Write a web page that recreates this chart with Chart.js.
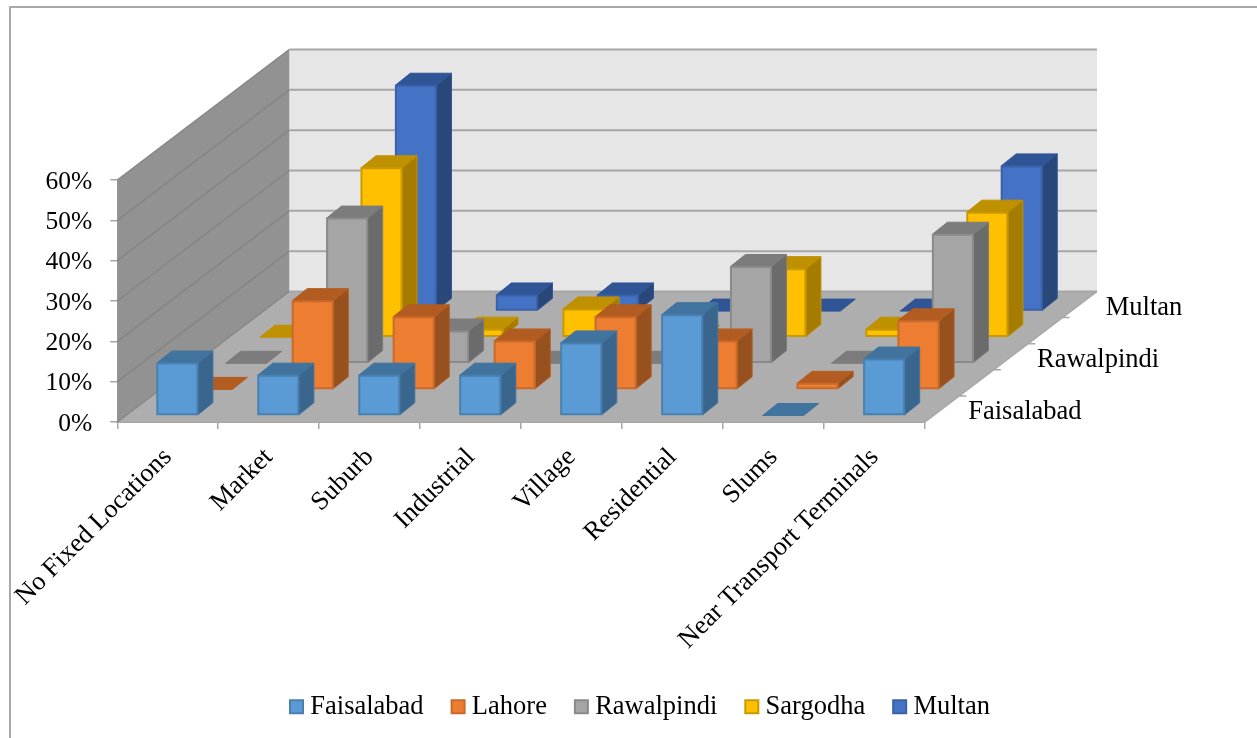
<!DOCTYPE html>
<html>
<head>
<meta charset="utf-8">
<title>Locations by city</title>
<style>
  html, body { margin: 0; padding: 0; background: #fff; }
  canvas { display: block; }
</style>
</head>
<body>
<canvas id="myChart" width="1257" height="738"></canvas>
<script src="https://cdn.jsdelivr.net/npm/chart.js@4"></script>
<script>
const categories = ["No Fixed Locations", "Market", "Suburb", "Industrial", "Village", "Residential", "Slums", "Near Transport Terminals"];
const faisalabad = [13, 10, 10, 10, 18, 25, 0, 14];
const lahore = [0, 22, 18, 12, 18, 12, 1.5, 17];
const rawalpindi = [0, 36, 8, 0, 0, 24, 0, 32];
const sargodha = [0, 42, 2, 7, 0, 17, 2, 31];
const multan = [0, 56, 4, 4, 0, 0, 0, 36];
const depthLabels = ["Faisalabad", "", "Rawalpindi", "", "Multan"];

// front, top, side, outline for each series
const frontColors = ["#5b9bd5", "#ed7d31", "#a5a5a5", "#ffc000", "#4472c4"];
const topColors = ["#41739f", "#b35c21", "#7c7c7c", "#bf9000", "#2f5597"];
const sideColors = ["#3a668e", "#96511e", "#6b6b6b", "#a67c00", "#2a4779"];
const lineColors = ["#4a80b0", "#c96a2a", "#8a8a8a", "#c89a00", "#3a62a8"];

// oblique projection, in pixels
const SLOT_DX = 34.4;
const SLOT_DY = 26.1;
const INSET_DX = 9.6;
const INSET_DY = 6.5;
const BAR_DX = 15;
const BAR_DY = 12;

Chart.defaults.font.family = '"Liberation Serif", "Times New Roman", serif';
Chart.defaults.color = "#000";

function poly(ctx, pts, fill, stroke) {
  ctx.beginPath();
  pts.forEach((p, i) => i ? ctx.lineTo(p[0], p[1]) : ctx.moveTo(p[0], p[1]));
  ctx.closePath();
  ctx.fillStyle = fill;
  ctx.fill();
  if (stroke) {
    ctx.strokeStyle = stroke;
    ctx.lineWidth = 1;
    ctx.stroke();
  }
}

// bar chart whose elements get painted as boxes, one row back per dataset
class Bar3dController extends Chart.BarController {
  draw() {
    const ctx = this.chart.ctx;
    const i = this.index;
    const dx = INSET_DX + SLOT_DX * i;
    const dy = -INSET_DY - SLOT_DY * i;
    ctx.save();
    this.getMeta().data.forEach((el) => {
      const p = el.getProps(["x", "y", "base", "width"], true);
      const l = p.x - p.width / 2 + dx;
      const r = p.x + p.width / 2 + dx;
      const t = p.y + dy;
      const b = p.base + dy;
      if (b - t > 0.5) {
        poly(ctx, [[r, t], [r + BAR_DX, t - BAR_DY], [r + BAR_DX, b - BAR_DY], [r, b]], sideColors[i], topColors[i]);
      }
      poly(ctx, [[l, t], [l + BAR_DX, t - BAR_DY], [r + BAR_DX, t - BAR_DY], [r, t]], topColors[i], topColors[i]);
      if (b - t > 0.5) {
        ctx.beginPath();
        ctx.rect(l + 0.5, t + 0.5, r - l - 1, b - t - 1);
        ctx.fillStyle = frontColors[i];
        ctx.fill();
        ctx.strokeStyle = lineColors[i];
        ctx.lineWidth = 2;
        ctx.stroke();
      }
    });
    ctx.restore();
  }
}
Bar3dController.id = "bar3d";
Bar3dController.defaults = Chart.BarController.defaults;
Bar3dController.overrides = Chart.BarController.overrides;
Chart.register(Bar3dController);

// walls, floor and the depth axis
const roomPlugin = {
  id: "room",
  beforeDraw(chart) {
    const ctx = chart.ctx;
    ctx.save();
    ctx.strokeStyle = "#a9a9a9";
    ctx.lineWidth = 2;
    ctx.strokeRect(10, 7, chart.width + 50, chart.height + 50);
    ctx.restore();
  },
  beforeDatasetsDraw(chart) {
    const ctx = chart.ctx;
    const y = chart.scales.y;
    const a = chart.chartArea;
    const n = chart.data.datasets.length;
    const w = SLOT_DX * n;
    const h = SLOT_DY * n;
    ctx.save();
    poly(ctx, [[a.left + w, a.top - h], [a.right + w, a.top - h], [a.right + w, a.bottom - h], [a.left + w, a.bottom - h]], "#e6e6e6");
    poly(ctx, [[a.left, a.top], [a.left + w, a.top - h], [a.left + w, a.bottom - h], [a.left, a.bottom]], "#929292");
    poly(ctx, [[a.left, a.bottom], [a.right, a.bottom], [a.right + w, a.bottom - h], [a.left + w, a.bottom - h]], "#aeaeae");

    y.ticks.forEach((t) => {
      const py = y.getPixelForValue(t.value);
      ctx.lineWidth = 1.5;
      ctx.strokeStyle = "#858585";
      ctx.beginPath();
      ctx.moveTo(a.left, py);
      ctx.lineTo(a.left + w, py - h);
      ctx.stroke();
      ctx.lineWidth = 2;
      ctx.strokeStyle = "#a6a6a6";
      ctx.beginPath();
      ctx.moveTo(a.left + w, py - h);
      ctx.lineTo(a.right + w, py - h);
      ctx.stroke();
    });

    // right edge of the floor, its ticks and labels
    ctx.strokeStyle = "#a6a6a6";
    ctx.lineWidth = 1.5;
    ctx.beginPath();
    ctx.moveTo(a.right, a.bottom);
    ctx.lineTo(a.right + w, a.bottom - h);
    for (let i = 1; i < n; i++) {
      ctx.moveTo(a.right + SLOT_DX * i, a.bottom - SLOT_DY * i);
      ctx.lineTo(a.right + SLOT_DX * i + 7, a.bottom - SLOT_DY * i);
    }
    ctx.stroke();
    ctx.fillStyle = "#000";
    ctx.font = '26.5px "Liberation Serif", serif';
    ctx.textAlign = "left";
    ctx.textBaseline = "middle";
    depthLabels.forEach((label, i) => {
      ctx.fillText(label, a.right + SLOT_DX * (i + 0.5) + 26, a.bottom - SLOT_DY * (i + 0.5) + 3);
    });
    ctx.restore();
  }
};

const seriesNames = ["Faisalabad", "Lahore", "Rawalpindi", "Sargodha", "Multan"];
const seriesValues = [faisalabad, lahore, rawalpindi, sargodha, multan];

new Chart(document.getElementById("myChart").getContext("2d"), {
  type: "bar3d",
  plugins: [roomPlugin],
  data: {
    labels: categories,
    datasets: seriesNames.map((name, i) => ({
      label: name,
      data: seriesValues[i],
      backgroundColor: frontColors[i],
      borderColor: lineColors[i],
      borderWidth: 2,
      clip: false,
      yAxisID: "y",
      xAxisID: "x"
    }))
  },
  options: {
    responsive: false,
    animation: false,
    layout: { autoPadding: false, padding: { left: 29, top: 180, right: 0, bottom: 8 } },
    grouped: false,
    categoryPercentage: 1,
    barPercentage: 0.407,
    plugins: {
      title: { display: false },
      tooltip: { enabled: false },
      legend: {
        position: "bottom",
        labels: {
          font: { size: 26.5 },
          usePointStyle: true,
          pointStyle: "rect",
          boxWidth: 1,
          boxHeight: 13,
          padding: 34
        }
      }
    },
    scales: {
      x: {
        type: "category",
        offset: true,
        grid: { offset: true, drawOnChartArea: false, color: "#a6a6a6", tickLength: 7, lineWidth: 1.5 },
        border: { color: "#a6a6a6", width: 2 },
        ticks: { minRotation: 45, maxRotation: 45, autoSkip: false, font: { size: 26.3 }, padding: 13 },
        afterFit(s) { s.height = 237.5; }
      },
      y: {
        type: "linear",
        min: 0,
        max: 60,
        grid: { drawOnChartArea: false, color: "#a6a6a6", tickLength: 7, lineWidth: 1.5 },
        border: { color: "#a6a6a6", width: 1.5 },
        ticks: { stepSize: 10, font: { size: 25.5 }, padding: 18, labelOffset: 2, callback: (v) => v + "%" },
        afterFit(s) { s.width = 84; }
      },
      // empty axis, keeps room at the right for the depth of the floor
      depth: {
        type: "linear",
        position: "right",
        grid: { display: false },
        border: { display: false },
        ticks: { display: false },
        afterFit(s) { s.width = 332; }
      }
    }
  }
});
</script>
</body>
</html>
